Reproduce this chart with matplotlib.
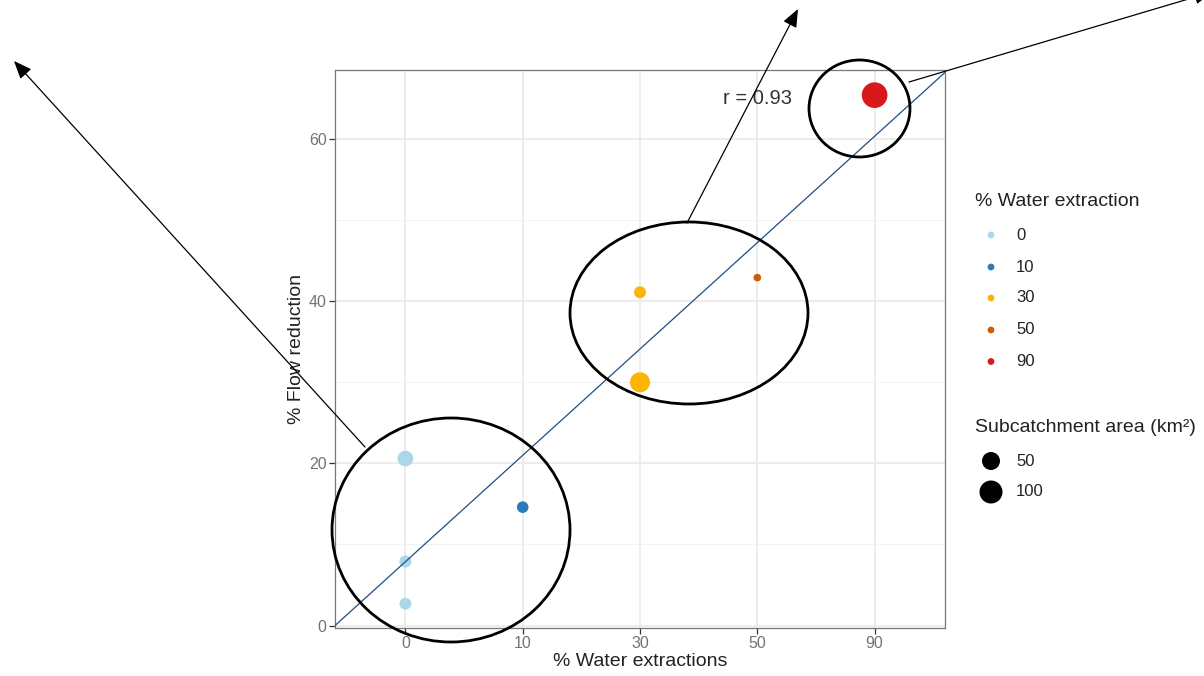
import matplotlib
matplotlib.use("Agg")
import matplotlib.pyplot as plt
from matplotlib.patches import Ellipse, FancyArrowPatch
from matplotlib.ticker import MultipleLocator

plt.rcParams['font.family'] = ['Liberation Sans', 'DejaVu Sans']

# data
x_labels = ['0', '10', '30', '50', '90']
extraction = ['0', '0', '0', '10', '30', '30', '50', '90']
flow_reduction = [20.6, 7.9, 2.7, 14.6, 41.1, 30.0, 42.9, 65.4]
subcatchment_area = [33, 13, 12, 11, 12, 68, 1, 134]
size_breaks = [50, 100]
fit_x = [0.4, 5.6]
fit_y = [0.0, 68.2]
r_value = 0.93

colours = {'0': '#AAD8EA', '10': '#2B7BBA', '30': '#FDB400', '50': '#CF5C0A', '90': '#D7191C'}


def diam_px(a):
    # area -> point diameter in pixels (roughly like ggplot scale_size)
    return 5.94 + 1.706 * a ** 0.5


def s_pts(d):
    return (d * 0.72) ** 2


W, H = 1204, 676
fig = plt.figure(figsize=(W / 100, H / 100), dpi=100)
ax = fig.add_axes([335 / W, 1 - 628 / H, 610 / W, 558 / H])

xpos = [x_labels.index(e) + 1 for e in extraction]
ax.scatter(xpos, flow_reduction,
           s=[s_pts(diam_px(a)) for a in subcatchment_area],
           c=[colours[e] for e in extraction], edgecolors='none', zorder=3)
ax.plot(fit_x, fit_y, color='#1F4E80', lw=0.9, zorder=4)
ax.text(4.0, 65.0, f"r = {r_value}", fontsize=14.5, color='#333333', ha='center', va='center', zorder=5)

ax.set_xlim(0.4, 5.6)
ax.set_ylim(-0.3, 68.5)
ax.set_xticks(range(1, len(x_labels) + 1))
ax.set_xticklabels(x_labels)
ax.set_yticks([0, 20, 40, 60])
ax.yaxis.set_minor_locator(MultipleLocator(10))
ax.tick_params(axis='both', which='major', labelsize=11.5, labelcolor='#737373',
               color='#333333', length=4, width=0.9, pad=2)
ax.tick_params(axis='y', which='minor', length=0)
ax.grid(True, which='major', color='#EBEBEB', lw=1.3)
ax.grid(True, which='minor', axis='y', color='#F2F2F2', lw=0.8)
ax.set_axisbelow(True)
for sp in ax.spines.values():
    sp.set_color('#777777')
    sp.set_linewidth(0.9)
ax.set_xlabel("% Water extractions", fontsize=14, color='#222222', labelpad=1.5)
ax.set_ylabel("% Flow reduction", fontsize=14, color='#222222', labelpad=3)

# overlay in pixel coordinates for legend and hand-drawn annotations
ov = fig.add_axes([0, 0, 1, 1], facecolor='none')
ov.set_xlim(0, W)
ov.set_ylim(H, 0)
ov.axis('off')

ov.text(975, 201, "% Water extraction", fontsize=14, color='#222222', va='center', ha='left')
leg_y = [235, 267, 298, 330, 361.5]
ov.scatter([991] * len(x_labels), leg_y, s=s_pts(6.8),
           c=[colours[k] for k in x_labels], edgecolors='none')
for k, y in zip(x_labels, leg_y):
    ov.text(1016, y, k, fontsize=12, color='#222222', va='center', ha='left')

ov.text(975, 427, "Subcatchment area (km²)", fontsize=14, color='#222222', va='center', ha='left')
size_y = [461, 492]
ov.scatter([991] * len(size_breaks), size_y,
           s=[s_pts(diam_px(a)) for a in size_breaks], c='black', edgecolors='none')
for b, y in zip(size_breaks, size_y):
    ov.text(1016, y, str(b), fontsize=12, color='#222222', va='center', ha='left')

# ellipses and arrows
for cx, cy, w, h in [(451, 530, 238, 224), (689, 313, 238, 182), (859.5, 108.5, 101, 97)]:
    ov.add_patch(Ellipse((cx, cy), w, h, fill=False, ec='black', lw=2.0))

for (x0, y0), (x1, y1) in [((365, 447), (14, 61)), ((687, 223), (798, 9)), ((909, 82), (1212, -8))]:
    ov.add_patch(FancyArrowPatch((x0, y0), (x1, y1),
                                 arrowstyle='-|>,head_length=1.1,head_width=0.45',
                                 mutation_scale=10, color='black', lw=0.9,
                                 shrinkA=0, shrinkB=0))

fig.savefig("out.png", dpi=100)
